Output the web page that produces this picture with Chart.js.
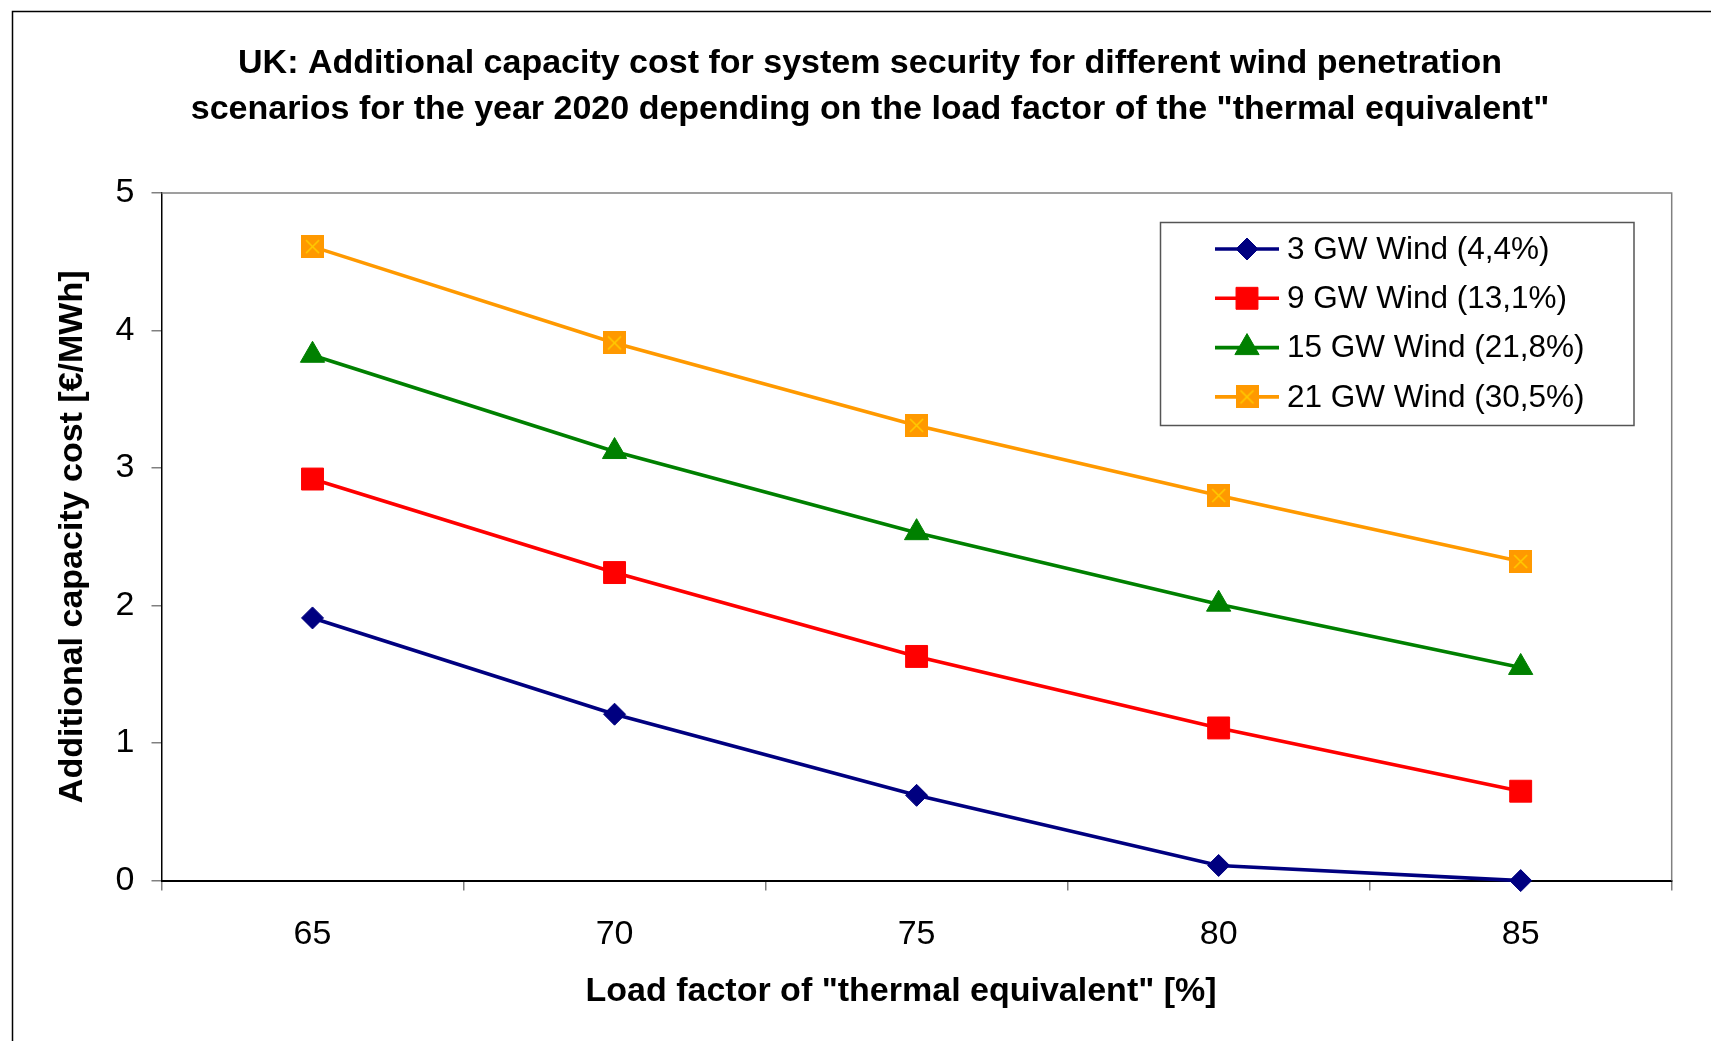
<!DOCTYPE html>
<html><head><meta charset="utf-8">
<script src="https://cdn.jsdelivr.net/npm/chart.js@4.4.1/dist/chart.umd.min.js"></script>
<style>html,body{margin:0;padding:0;background:#fff;} #wrap{width:1711px;height:1041px;position:relative;}</style>
</head><body><div id="wrap"><canvas id="c" width="1711" height="1041"></canvas></div>
<script>
// ---- data ----
const categories = ['65', '70', '75', '80', '85'];
const wind3 = [1.91, 1.21, 0.62, 0.11, 0.0];
const wind9 = [2.92, 2.24, 1.63, 1.11, 0.65];
const wind15 = [3.82, 3.12, 2.53, 2.01, 1.55];
const wind21 = [4.61, 3.91, 3.31, 2.80, 2.32];
const seriesLabels = ['3 GW Wind (4,4%)', '9 GW Wind (13,1%)', '15 GW Wind (21,8%)', '21 GW Wind (30,5%)'];
const yTickValues = [0, 1, 2, 3, 4, 5];
const titleLines = ['UK: Additional capacity cost for system security for different wind penetration',
  'scenarios for the year 2020 depending on the load factor of the "thermal equivalent"'];
const xTitle = 'Load factor of "thermal equivalent" [%]';
const yTitle = 'Additional capacity cost [€/MWh]';

// ---- styles ----
const FONT = "'Liberation Sans', Arial, sans-serif";
const colors = ['#000080', '#FF0000', '#008000', '#FF9900'];

function makeOrangeMarker() {
  const c = document.createElement('canvas');
  c.width = 23; c.height = 23;
  const g = c.getContext('2d');
  g.fillStyle = '#FF9900';
  g.fillRect(0, 0, 23, 23);
  g.strokeStyle = '#FFCC00';
  g.lineWidth = 1.6;
  g.beginPath();
  g.moveTo(5, 5); g.lineTo(18, 18);
  g.moveTo(18, 5); g.lineTo(5, 18);
  g.stroke();
  return c;
}
const orangeMarker = makeOrangeMarker();
const styles = ['rectRot', 'rect', 'triangle', orangeMarker];
const radii = [11, 15.5, 14, 11.5];

const seriesValues = [wind3, wind9, wind15, wind21];
const datasets = seriesValues.map((vals, i) => ({
  label: seriesLabels[i],
  data: vals,
  borderColor: colors[i],
  backgroundColor: colors[i],
  borderWidth: 3.6,
  pointStyle: styles[i],
  pointRadius: radii[i],
  pointHoverRadius: radii[i],
  pointBackgroundColor: colors[i],
  pointBorderColor: colors[i],
  pointBorderWidth: 1,
  tension: 0,
  clip: false
}));

function drawMarker(ctx, style, x, y, r, color) {
  ctx.save();
  ctx.fillStyle = color; ctx.strokeStyle = color; ctx.lineWidth = 1;
  ctx.beginPath();
  if (style === 'rectRot') {
    ctx.moveTo(x, y - r); ctx.lineTo(x + r, y); ctx.lineTo(x, y + r); ctx.lineTo(x - r, y); ctx.closePath();
    ctx.fill(); ctx.stroke();
  } else if (style === 'rect') {
    const s = r * Math.SQRT1_2;
    ctx.rect(x - s, y - s, 2 * s, 2 * s); ctx.fill(); ctx.stroke();
  } else if (style === 'triangle') {
    const w = r * Math.sin(Math.PI / 3);
    ctx.moveTo(x, y - r); ctx.lineTo(x + w, y + r / 2); ctx.lineTo(x - w, y + r / 2); ctx.closePath();
    ctx.fill(); ctx.stroke();
  } else {
    ctx.drawImage(style, x - style.width / 2, y - style.height / 2);
  }
  ctx.restore();
}

const framePlugin = {
  id: 'frame',
  beforeDraw(chart) {
    // shift the chart title box so its centre matches the reference
    if (chart.titleBlock) { chart.titleBlock.left = 29; chart.titleBlock.right = 1711; }
    // shift the x-axis title slightly left, as in the reference
    const xs = chart.scales.x;
    if (xs && !xs._titleShifted) {
      const orig = xs.drawTitle;
      xs.drawTitle = function () {
        const l = this.left;
        this.left = l - 31;
        orig.call(this);
        this.left = l;
      };
      xs._titleShifted = true;
    }
    const ctx = chart.ctx;
    ctx.save();
    ctx.fillStyle = '#fff';
    ctx.fillRect(0, 0, chart.width, chart.height);
    ctx.strokeStyle = '#000';
    ctx.lineWidth = 1.5;
    ctx.strokeRect(12.5, 11.5, 3000, 3000);
    ctx.restore();
  },
  beforeDatasetsDraw(chart) {
    const a = chart.chartArea, ctx = chart.ctx;
    ctx.save();
    ctx.strokeStyle = '#808080';
    ctx.lineWidth = 1.5;
    ctx.beginPath();
    ctx.moveTo(a.left, a.top); ctx.lineTo(a.right, a.top); ctx.lineTo(a.right, a.bottom);
    ctx.stroke();
    ctx.restore();
  }
};

const legendPlugin = {
  id: 'boxLegend',
  afterDraw(chart) {
    const ctx = chart.ctx;
    ctx.save();
    ctx.strokeStyle = '#555';
    ctx.lineWidth = 1.5;
    ctx.strokeRect(1160.5, 222.5, 473.5, 203);
    ctx.font = '31.5px ' + FONT;
    ctx.textBaseline = 'middle';
    ctx.textAlign = 'left';
    chart.data.datasets.forEach((ds, i) => {
      const y = 249 + i * 49.3;
      ctx.strokeStyle = ds.borderColor;
      ctx.lineWidth = 3.6;
      ctx.beginPath(); ctx.moveTo(1215, y); ctx.lineTo(1279, y); ctx.stroke();
      drawMarker(ctx, ds.pointStyle, 1247, y, ds.pointRadius, ds.borderColor);
      ctx.fillStyle = '#000';
      ctx.fillText(ds.label, 1287, y + 1);
    });
    ctx.restore();
  }
};

new Chart(document.getElementById('c'), {
  type: 'line',
  data: { labels: categories, datasets: datasets },
  options: {
    responsive: false,
    animation: false,
    devicePixelRatio: 1,
    layout: { padding: { left: 0, right: 39.3, top: 0, bottom: 0 } },
    plugins: {
      legend: { display: false },
      tooltip: { enabled: false },
      title: {
        display: true,
        text: titleLines,
        color: '#000',
        font: { family: FONT, size: 34, weight: 'bold', lineHeight: 1.353 },
        padding: { top: 41, bottom: 60 }
      }
    },
    scales: {
      x: {
        type: 'category',
        offset: true,
        grid: { offset: true, drawOnChartArea: false, drawTicks: true, tickLength: 10, color: '#808080', lineWidth: 1.5 },
        border: { color: '#000', width: 2 },
        ticks: { color: '#000', font: { family: FONT, size: 34 }, padding: 24, maxRotation: 0 },
        title: { display: true, text: xTitle, color: '#000', font: { family: FONT, size: 34, weight: 'bold', lineHeight: 1.2 }, padding: { top: 0, bottom: 29 } },
        afterFit(scale) { scale.height = 160.4; }
      },
      y: {
        min: 0, max: 5,
        afterBuildTicks(scale) { scale.ticks = yTickValues.map(v => ({ value: v })); },
        grid: { drawOnChartArea: false, drawTicks: true, tickLength: 10, color: '#808080', lineWidth: 1.5 },
        border: { color: '#000', width: 1.5 },
        ticks: { color: '#000', font: { family: FONT, size: 34 }, padding: 17 },
        title: { display: true, text: yTitle, color: '#000', font: { family: FONT, size: 34, weight: 'bold', lineHeight: 1.2 }, padding: { top: 52.6, bottom: 0 } },
        afterFit(scale) { scale.width = 161.5; }
      }
    }
  },
  plugins: [framePlugin, legendPlugin]
});
</script></body></html>
